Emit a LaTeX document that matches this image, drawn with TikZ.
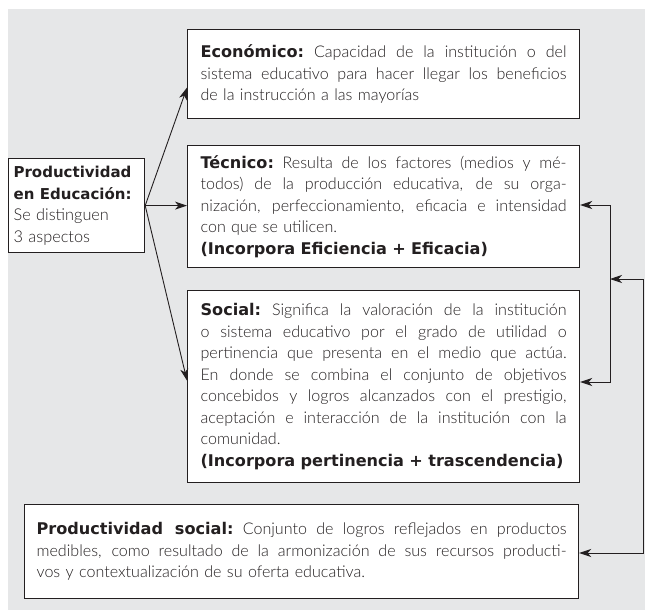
\documentclass[tikz,border=0pt]{standalone}
\usepackage{fontspec}
\setmainfont{Lato Light}[BoldFont={DejaVu Sans Bold}]
\usetikzlibrary{arrows.meta,calc}
\definecolor{bggray}{HTML}{E6E7E8}
\definecolor{ink}{HTML}{231F20}
\setlength\parindent{0pt}
\newlength\jw
\newcommand\jline[1]{{\spaceskip=0pt\xspaceskip=0pt\makebox[\jw][s]{#1}}}
\begin{document}
\begin{tikzpicture}[x=1pt,y=-1pt,
  boxnode/.style={draw=ink, line width=1.2pt, fill=white, anchor=north west,
    inner ysep=0pt, align=left, text=ink,
    font=\fontsize{16.1}{21.5}\selectfont},
  widebox/.style={boxnode, text width=366pt, inner xsep=13pt, minimum width=392pt},
  tip/.tip={Stealth[length=12pt,width=8pt,inset=3.5pt]},
  arr/.style={draw=ink, line width=0.9pt, -tip},
  arrboth/.style={draw=ink, line width=0.9pt, tip-tip}]
\useasboundingbox (0,0) rectangle (645,610);
\fill[bggray] (8,9) rectangle (645,610);

\node[boxnode, text width=126pt, inner xsep=5pt, minimum width=136pt, minimum height=94pt,
      font=\fontsize{16.3}{21.5}\selectfont] (lb) at (8,158)
  {{\fontsize{15}{21.5}\selectfont\bfseries Productividad}\\
   {\fontsize{15}{21.5}\selectfont\bfseries en Educación:}\\
   Se distinguen\\ 3 aspectos};

\node[widebox, minimum height=89pt] (eco) at (187,29)
  {\setlength\jw{366pt}%
   \jline{\textbf{Económico:}\ Capacidad de la institución o del}\\
   \jline{sistema educativo para hacer llegar los beneficios}\\
   de la instrucción a las mayorías};

\node[widebox, minimum height=122pt] (tec) at (187,145)
  {\setlength\jw{366pt}%
   \jline{\textbf{Técnico:}\ Resulta de los factores (medios y mé-}\\
   \jline{todos) de la producción educativa, de su orga-}\\
   \jline{nización, perfeccionamiento, eficacia e intensidad}\\
   con que se utilicen.\\
   \textbf{(Incorpora Eficiencia + Eficacia)}};

\node[widebox, minimum height=192pt] (soc) at (187,290)
  {\setlength\jw{366pt}%
   \jline{\textbf{Social:}\ Significa la valoración de la institución}\\
   \jline{o sistema educativo por el grado de utilidad o}\\
   \jline{pertinencia que presenta en el medio que actúa.}\\
   \jline{En donde se combina el conjunto de objetivos}\\
   \jline{concebidos y logros alcanzados con el prestigio,}\\
   \jline{aceptación e interacción de la institución con la}\\
   comunidad.\\
   \textbf{(Incorpora pertinencia + trascendencia)}};

\node[boxnode, text width=530pt, inner xsep=12pt, minimum width=554pt, minimum height=94pt] (ps) at (24,504)
  {\setlength\jw{530pt}%
   \jline{\textbf{Productividad social:}\ Conjunto de logros reflejados en productos}\\
   \jline{medibles, como resultado de la armonización de sus recursos producti-}\\
   vos y contextualización de su oferta educativa.};

\draw[arr] (lb.east) -- ([yshift=-13.5pt]eco.west);
\draw[arr] (lb.east) -- (lb.east -| tec.west);
\draw[arr] (lb.east) -- ([yshift=6pt]soc.west);

\coordinate (r1a) at (610,205);
\coordinate (r1b) at (610,382);
\coordinate (r2a) at (643,279);
\coordinate (r2b) at (643,553);
\draw[arrboth] (tec.east |- r1a) -- (r1a) -- (r1b) -- (soc.east |- r1b);
\draw[arrboth] (r1a |- r2a) -- (r2a) -- (r2b) -- (ps.east |- r2b);
\end{tikzpicture}
\end{document}
